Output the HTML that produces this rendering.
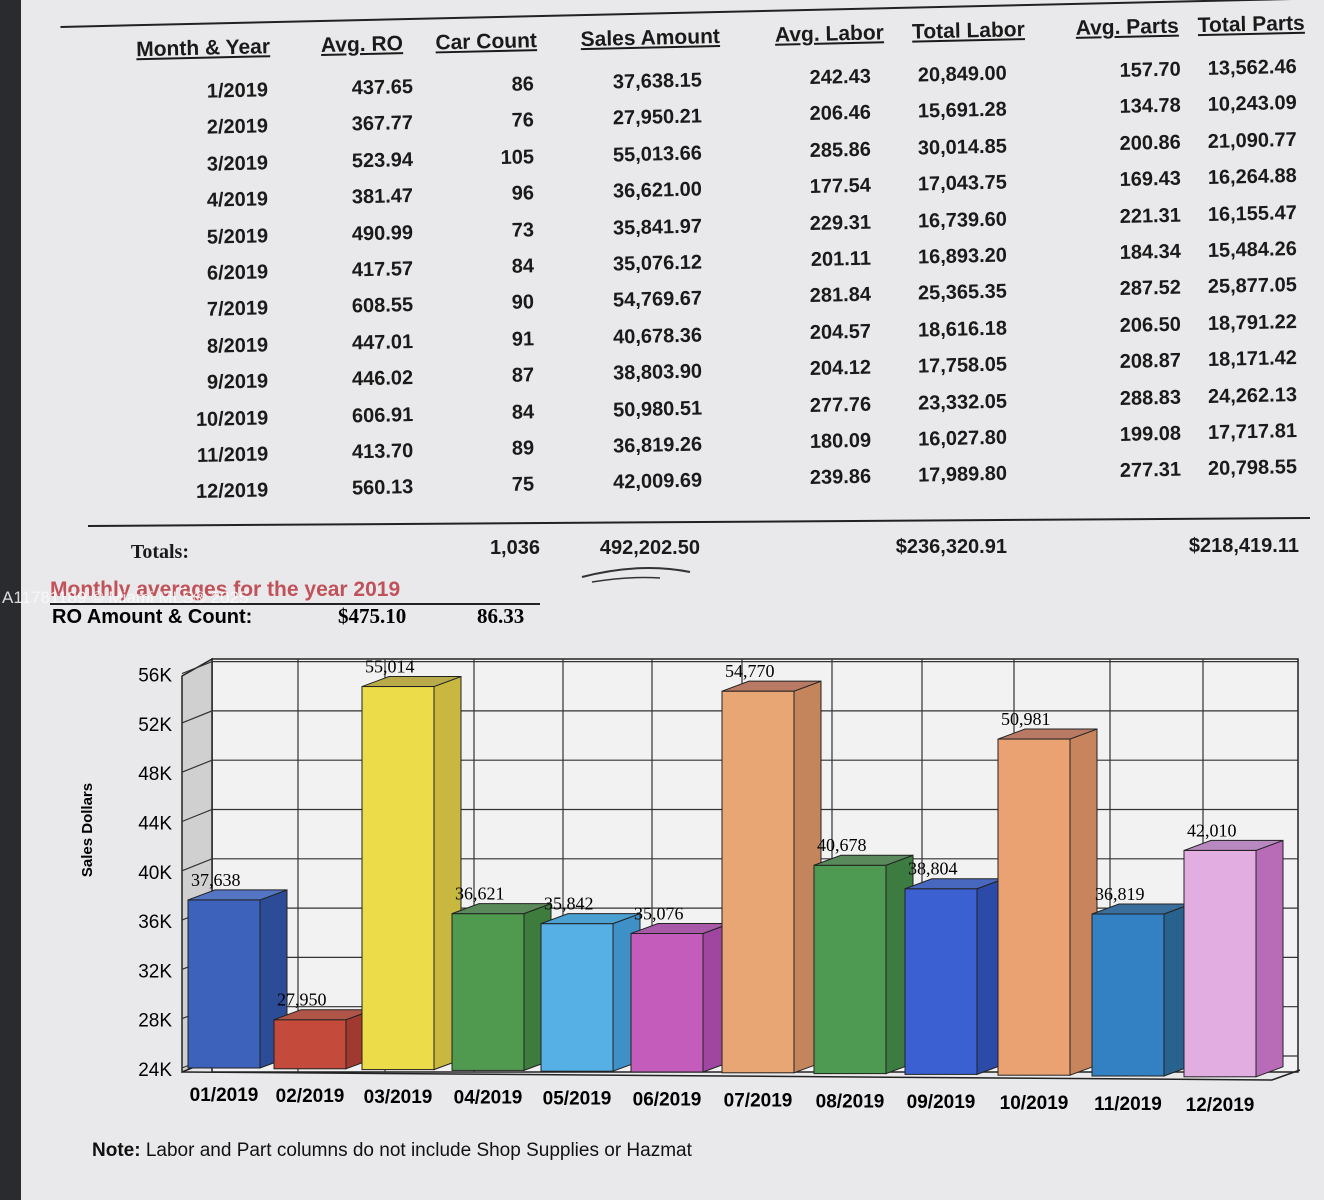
<!DOCTYPE html>
<html><head><meta charset="utf-8"><style>
body{margin:0;width:1324px;height:1200px;overflow:hidden;background:#e9e9eb;font-family:"Liberation Sans",sans-serif;position:relative}
.strip{position:absolute;left:0;top:0;width:21px;height:1200px;background:#2a2b2e}
.tbl{position:absolute;left:0;top:0;width:1324px;height:640px;transform-origin:235px 92px;transform:rotate(-1.3deg)}
.c{position:absolute;font-size:20px;font-weight:bold;color:#1a1a1a;white-space:nowrap;transform:translateX(-100%)}
.h{text-decoration:underline;font-size:21px}
</style></head><body>
<div class="strip"></div>
<div class="tbl" id="t">
<div style="position:absolute;left:62px;top:22px;width:1260px;border-top:2px solid #222"></div>
<div class="c h" style="left:271px;top:36px">Month &amp; Year</div>
<div class="c h" style="left:404px;top:36px">Avg. RO</div>
<div class="c h" style="left:538px;top:36px">Car Count</div>
<div class="c h" style="left:721px;top:36px">Sales Amount</div>
<div class="c h" style="left:885px;top:36px">Avg. Labor</div>
<div class="c h" style="left:1026px;top:36px">Total Labor</div>
<div class="c h" style="left:1180px;top:36px">Avg. Parts</div>
<div class="c h" style="left:1306px;top:36px">Total Parts</div>
<div id="rows"></div>
</div>
<svg style="position:absolute;left:0;top:0" width="1324" height="1200">
<line x1="88" y1="526" x2="1310" y2="518" stroke="#222" stroke-width="2"/>
</svg>
<div class="c" style="left:189px;top:541px;font-family:'Liberation Serif',serif">Totals:</div>
<div class="c" style="left:540px;top:537px">1,036</div>
<div class="c" style="left:700px;top:537px">492,202.50</div>
<div class="c" style="left:1007px;top:536px">$236,320.91</div>
<div class="c" style="left:1299px;top:535px">$218,419.11</div>
<script>
var d=[["1/2019","437.65","86","37,638.15","242.43","20,849.00","157.70","13,562.46"],
["2/2019","367.77","76","27,950.21","206.46","15,691.28","134.78","10,243.09"],
["3/2019","523.94","105","55,013.66","285.86","30,014.85","200.86","21,090.77"],
["4/2019","381.47","96","36,621.00","177.54","17,043.75","169.43","16,264.88"],
["5/2019","490.99","73","35,841.97","229.31","16,739.60","221.31","16,155.47"],
["6/2019","417.57","84","35,076.12","201.11","16,893.20","184.34","15,484.26"],
["7/2019","608.55","90","54,769.67","281.84","25,365.35","287.52","25,877.05"],
["8/2019","447.01","91","40,678.36","204.57","18,616.18","206.50","18,791.22"],
["9/2019","446.02","87","38,803.90","204.12","17,758.05","208.87","18,171.42"],
["10/2019","606.91","84","50,980.51","277.76","23,332.05","288.83","24,262.13"],
["11/2019","413.70","89","36,819.26","180.09","16,027.80","199.08","17,717.81"],
["12/2019","560.13","75","42,009.69","239.86","17,989.80","277.31","20,798.55"]];
var xs=[268,413,534,702,871,1007,1181,1297],h="";
d.forEach(function(r,i){r.forEach(function(v,j){h+='<div class="c" style="left:'+(xs[j]-i*0.8)+'px;top:'+(80+i*36.4)+'px">'+v+'</div>';});});
document.getElementById("rows").innerHTML=h;
</script>
<div style="position:absolute;left:50px;top:578px;font-size:21px;font-weight:bold;color:#c0525a">Monthly averages for the year 2019</div>
<div style="position:absolute;left:2px;top:588px;font-size:17px;color:rgba(250,250,250,0.85)">A11781189 © Miami MLS® 2025</div>
<div style="position:absolute;left:50px;top:603px;width:490px;border-top:2px solid #222"></div>
<div style="position:absolute;left:52px;top:606px;font-size:20px;font-weight:bold">RO Amount &amp; Count:</div>
<div style="position:absolute;left:338px;top:604px;font-size:21px;font-weight:bold;font-family:'Liberation Serif',serif">$475.10</div>
<div style="position:absolute;left:477px;top:604px;font-size:21px;font-weight:bold;font-family:'Liberation Serif',serif">86.33</div>
<svg style="position:absolute;left:0;top:0" width="1324" height="1200">
<path d="M582 577 Q640 562 690 572" stroke="#333" stroke-width="2" fill="none"/>
<path d="M592 582 Q630 576 660 578" stroke="#333" stroke-width="1.5" fill="none"/>
<g id="ch"></g>
<text x="92" y="830" transform="rotate(-90 92 830)" text-anchor="middle" font-size="15" font-weight="bold" font-family="Liberation Sans">Sales Dollars</text>
</svg>
<div style="position:absolute;left:92px;top:1140px;font-size:19px;color:#111"><b>Note:</b> Labor and Part columns do not include Shop Supplies or Hazmat</div>
<script>
var g="",L=212,R=1298,T=659,B=1068;
function yv(v){return 1068-(v-24000)/4000*49.3;}
g+='<rect x="'+L+'" y="'+T+'" width="'+(R-L)+'" height="'+(1072-T)+'" fill="#f2f2f2" stroke="#222" stroke-width="1.5"/>';
g+='<polygon points="182,676 '+L+','+T+' '+L+',1060 182,1072" fill="#d0d0d0" stroke="#222" stroke-width="1.5"/>';
for(var k=0;k<=8;k++){var y=yv(24000+k*4000);g+='<polyline points="182,'+y+' '+L+','+(y-12)+' '+R+','+(y-12)+'" fill="none" stroke="#333" stroke-width="1.2"/>';
g+='<text x="172" y="'+(y+8)+'" text-anchor="end" font-size="19" font-family="Liberation Sans">'+(24+k*4)+'K</text>';}
var vx=[298,385,474,563,652,742,832,922,1014,1110,1203];
vx.forEach(function(x){g+='<line x1="'+x+'" y1="'+T+'" x2="'+x+'" y2="1072" stroke="#333" stroke-width="1.2"/>';});
g+='<polyline points="182,1072 1272,1080 1300,1070" fill="none" stroke="#222" stroke-width="1.5"/>';
var vals=[37638,27950,55014,36621,35842,35076,54770,40678,38804,50981,36819,42010];
var fx=[188,274,362,452,541,631,722,814,905,998,1092,1184];
var cf=["#3c62bc","#c44a3c","#ecdc4a","#4f9a4f","#56b0e6","#c45cbc","#e8a674","#4f9a52","#3a60d2","#eaa272","#3380c2","#e2aee2"];
var cs=["#2c4c98","#a03a30","#c8b840","#3e7c3e","#3e90c6","#a046a0","#c4845c","#3d7c40","#2c4aa8","#c8845c","#28628e","#b86cb8"];
var ct=["#5474c4","#b05648","#b8aa48","#5a8a5a","#4aa0d0","#a85aa8","#b87a64","#5a8a5c","#4868c0","#b87a64","#3a6e9c","#b888c0"];
vals.forEach(function(v,i){var x=fx[i],w=72,dx=27,dy=10,b=1068+i*0.8,t=yv(v)+i*0.4;
g+='<rect x="'+x+'" y="'+t+'" width="'+w+'" height="'+(b-t)+'" fill="'+cf[i]+'" stroke="#222" stroke-width="1"/>';
g+='<polygon points="'+(x+w)+','+t+' '+(x+w+dx)+','+(t-dy)+' '+(x+w+dx)+','+(b-dy)+' '+(x+w)+','+b+'" fill="'+cs[i]+'" stroke="#222" stroke-width="1"/>';
g+='<polygon points="'+x+','+t+' '+(x+dx)+','+(t-dy)+' '+(x+w+dx)+','+(t-dy)+' '+(x+w)+','+t+'" fill="'+ct[i]+'" stroke="#222" stroke-width="1"/>';
g+='<text x="'+(x+3)+'" y="'+(t-14)+'" font-size="18" font-family="Liberation Serif">'+v.toLocaleString("en-US")+'</text>';
g+='<text x="'+(x+36)+'" y="'+(1101+i*0.9)+'" text-anchor="middle" font-size="19" font-weight="bold" font-family="Liberation Sans">'+String(i+1).padStart(2,"0")+'/2019</text>';});
document.getElementById("ch").innerHTML=g;
</script>
</body></html>
